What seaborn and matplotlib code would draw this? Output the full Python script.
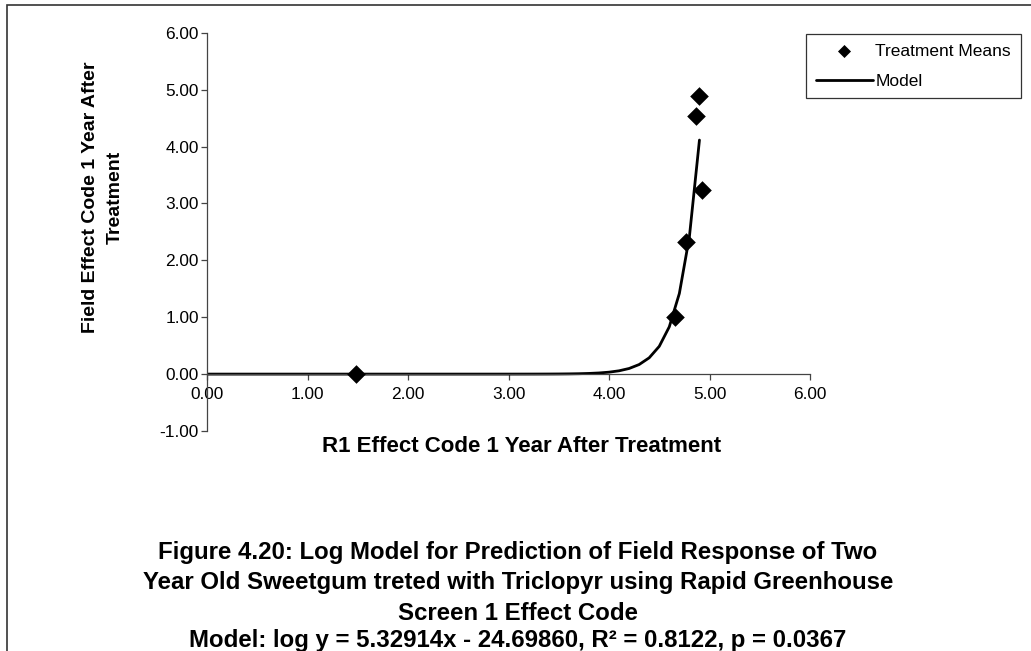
import numpy as np
import pandas as pd
import matplotlib
matplotlib.use("Agg")
import matplotlib.pyplot as plt
from matplotlib.patches import Rectangle
import seaborn as sns

# Treatment means: greenhouse R1 effect code vs field effect code
r1_code = [1.48, 4.66, 4.77, 4.87, 4.90, 4.93]
field_code = [0.00, 1.00, 2.32, 4.53, 4.88, 3.23]

# Fitted log model: ln y = slope * x + intercept
slope = 5.32914
intercept = -24.69860
model_x_start, model_x_end, model_x_step = 0.0, 4.9, 0.1

x_ticks = [0, 1, 2, 3, 4, 5, 6]
y_ticks = [-1, 0, 1, 2, 3, 4, 5, 6]

title_lines = [
    "Figure 4.20: Log Model for Prediction of Field Response of Two",
    "Year Old Sweetgum treted with Triclopyr using Rapid Greenhouse",
    "Screen 1 Effect Code",
    "Model: log y = 5.32914x - 24.69860, R\u00b2 = 0.8122, p = 0.0367",
]

sns.set_theme(style="white")
plt.rcParams["font.family"] = ["Liberation Sans", "DejaVu Sans"]
plt.rcParams["text.color"] = "black"
plt.rcParams["axes.labelcolor"] = "black"
plt.rcParams["xtick.color"] = "black"
plt.rcParams["ytick.color"] = "black"

W, H = 1031, 651
fig = plt.figure(figsize=(W / 100, H / 100), dpi=100)
ax = fig.add_axes([207 / W, 1 - 431 / H, (810 - 207) / W, (431 - 32.7) / H])

means = pd.DataFrame({"x": r1_code, "y": field_code})
mx = np.arange(model_x_start, model_x_end + model_x_step / 2, model_x_step)
model = pd.DataFrame({"x": mx, "y": np.exp(slope * mx + intercept)})

sns.scatterplot(data=means, x="x", y="y", marker="D", s=90, color="black",
                edgecolor="black", linewidth=0, zorder=3, ax=ax,
                label="Treatment Means")
sns.lineplot(data=model, x="x", y="y", color="black", linewidth=2.0,
             zorder=2, ax=ax, label="Model", sort=False)

ax.set_xlim(0, 6)
ax.set_ylim(-1, 6)
ax.set_xticks(x_ticks)
ax.set_yticks(y_ticks)
ax.set_xticklabels([f"{v:.2f}" for v in x_ticks])
ax.set_yticklabels([f"{v:.2f}" for v in y_ticks])
ax.set_xlabel("")
ax.set_ylabel("")

for side in ("top", "right"):
    ax.spines[side].set_visible(False)
ax.spines["bottom"].set_position(("data", 0))
for side in ("left", "bottom"):
    ax.spines[side].set_color("#444444")
    ax.spines[side].set_linewidth(0.9)
ax.tick_params(axis="both", which="major", direction="out", length=4,
               width=0.9, color="#444444", labelsize=12.4, labelcolor="black",
               left=True, bottom=True)
ax.tick_params(axis="y", pad=2)
ax.tick_params(axis="x", pad=5)

handles, labels = ax.get_legend_handles_labels()
ax.get_legend().remove()
leg = fig.legend(handles, labels, loc="upper left",
                 bbox_to_anchor=(806 / W, 1 - 34 / H), frameon=True,
                 fancybox=False, framealpha=1, edgecolor="#333333",
                 fontsize=12.5, handlelength=3.3, handletextpad=0.15,
                 labelspacing=0.85, borderpad=0.55, borderaxespad=0,
                 markerscale=0.7)
leg.get_frame().set_linewidth(0.9)

fig.text(103 / W, 1 - 197 / H, "Field Effect Code 1 Year After\nTreatment",
         rotation=90, ha="center", va="center", fontsize=14,
         fontweight="bold", linespacing=1.55)
fig.text(522 / W, 1 - 446 / H, "R1 Effect Code 1 Year After Treatment",
         ha="center", va="center", fontsize=16, fontweight="bold")

for y_px, line in zip([552, 583, 613, 640], title_lines):
    fig.text(518 / W, 1 - y_px / H, line, ha="center", va="center",
             fontsize=17.3, fontweight="bold")

# Outer frame around the chart area
fig.patches.append(Rectangle((7 / W, -0.05), 1.1, 1 - 5 / H + 0.05,
                             transform=fig.transFigure, fill=False,
                             edgecolor="#333333", linewidth=1.2))

fig.savefig("out.png", dpi=100, facecolor="white")
